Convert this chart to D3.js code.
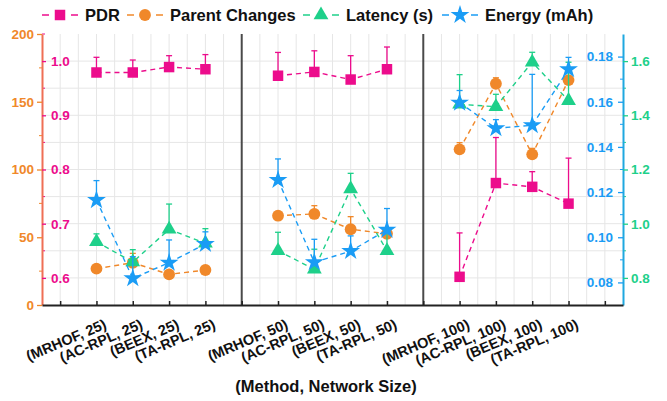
<!DOCTYPE html>
<html>
<head>
<meta charset="utf-8">
<script src="https://cdn.jsdelivr.net/npm/d3@7"></script>
<style>
  body { margin: 0; background: #fff; }
  svg { font-family: "Liberation Sans", Arial, sans-serif; font-weight: bold; }
</style>
</head>
<body>
<div id="chart"></div>
<script>
// data
const categories = ['(MRHOF, 25)', '(AC-RPL, 25)', '(BEEX, 25)', '(TA-RPL, 25)',
                    '(MRHOF, 50)', '(AC-RPL, 50)', '(BEEX, 50)', '(TA-RPL, 50)',
                    '(MRHOF, 100)', '(AC-RPL, 100)', '(BEEX, 100)', '(TA-RPL, 100)'];
const groupSize = 4;

const pdr       = [0.979, 0.979, 0.989, 0.985, 0.973, 0.980, 0.966, 0.985, 0.602, 0.775, 0.768, 0.737];
const pdrErr    = [0.028, 0.023, 0.021, 0.027, 0.043, 0.039, 0.044, 0.041, 0.081, 0.084, 0.028, 0.084];
const parent    = [26.8, 31.2, 22.6, 25.8, 65.9, 67.2, 55.9, 52.6, 114.9, 163.3, 111.2, 166.0];
const parentErr = [1, 6.9, 1.5, 1, 1, 6.1, 9.3, 1, 4.9, 4.4, 4.4, 2];
const latency   = [0.098, 0.089, 0.1035, 0.0973, 0.094, 0.0858, 0.1214, 0.094, 0.1589, 0.1578, 0.1775, 0.1605];
const latencyErr= [0.0035, 0.0055, 0.0112, 0.0065, 0.0082, 0.0089, 0.0069, 0.008, 0.0131, 0.0055, 0.0044, 0.017];
const energy    = [1.087, 0.7985, 0.856, 0.925, 1.161, 0.8575, 0.899, 0.977, 1.4465, 1.352, 1.363, 1.5697];
const energyErr = [0.072, 0.08, 0.084, 0.045, 0.078, 0.085, 0.056, 0.079, 0.045, 0.032, 0.188, 0.044];

const parentTicks  = [0, 50, 100, 150, 200];
const pdrTicks     = [0.6, 0.7, 0.8, 0.9, 1.0];
const latencyTicks = [0.08, 0.10, 0.12, 0.14, 0.16, 0.18];
const energyTicks  = [0.8, 1.0, 1.2, 1.4, 1.6];

const W = 667, H = 401;
const plotLeft = 42, plotRight = 623, plotTop = 34, plotBottom = 305;

const svg = d3.select('#chart').append('svg')
  .attr('width', W).attr('height', H);

// slot index for each category: groups are separated by one empty slot
const pos = i => 1.5 + Math.floor(i / groupSize) * (groupSize + 1) + (i % groupSize);

const x = d3.scaleLinear().domain([0, 16]).range([plotLeft, plotRight]);
const yParent = d3.scaleLinear().domain([0, 200]).range([plotBottom, plotTop]);
const yPdr = d3.scaleLinear().domain([0.55, 1.05]).range([plotBottom, plotTop]);
const yLat = d3.scaleLinear().domain([0.07, 0.19]).range([plotBottom, plotTop]);
const yEn = d3.scaleLinear().domain([0.7, 1.7]).range([plotBottom, plotTop]);

// grid
const grid = svg.append('g').attr('stroke', '#e6e6e6').attr('stroke-width', 1);
d3.range(0.5, 16, 0.5).filter(v => v !== 5.5 && v !== 10.5).forEach(v => {
  grid.append('line').attr('x1', x(v)).attr('x2', x(v)).attr('y1', plotTop).attr('y2', plotBottom);
});
d3.range(0.6, 1.001, 0.05).forEach(v => {
  grid.append('line').attr('x1', plotLeft).attr('x2', plotRight).attr('y1', yPdr(v)).attr('y2', yPdr(v));
});

// group separators
[5.5, 10.5].forEach(v => {
  svg.append('line').attr('x1', x(v)).attr('x2', x(v)).attr('y1', plotTop).attr('y2', plotBottom)
    .attr('stroke', '#4a4a4a').attr('stroke-width', 2);
});

const series = [
  { name: 'PDR', vals: pdr, err: pdrErr, y: yPdr, color: '#ec0c8c', sym: d3.symbolSquare, size: 110 },
  { name: 'Parent Changes', vals: parent, err: parentErr, y: yParent, color: '#f0882a', sym: d3.symbolCircle, size: 110 },
  { name: 'Latency (s)', vals: latency, err: latencyErr, y: yLat, color: '#1ed08a', sym: d3.symbolTriangle, size: 95 },
  { name: 'Energy (mAh)', vals: energy, err: energyErr, y: yEn, color: '#1a9cf5', sym: d3.symbolStar, size: 110 }
];

series.forEach(s => {
  const g = svg.append('g');
  // dashed lines within each group
  for (let k = 0; k < categories.length; k += groupSize) {
    const idx = d3.range(k, k + groupSize);
    g.append('path')
      .attr('d', d3.line().x(i => x(pos(i))).y(i => s.y(s.vals[i]))(idx))
      .attr('fill', 'none').attr('stroke', s.color)
      .attr('stroke-width', 1.4).attr('stroke-dasharray', '5,4');
  }
  // upper error bars
  s.vals.forEach((v, i) => {
    const cx = x(pos(i));
    g.append('line').attr('x1', cx).attr('x2', cx)
      .attr('y1', s.y(v)).attr('y2', s.y(v + s.err[i]))
      .attr('stroke', s.color).attr('stroke-width', 1.3);
    g.append('line').attr('x1', cx - 3).attr('x2', cx + 3)
      .attr('y1', s.y(v + s.err[i])).attr('y2', s.y(v + s.err[i]))
      .attr('stroke', s.color).attr('stroke-width', 1.3);
  });
  g.selectAll('path.mark').data(s.vals).enter().append('path')
    .attr('class', 'mark')
    .attr('d', d3.symbol().type(s.sym).size(s.size))
    .attr('transform', (v, i) => `translate(${x(pos(i))},${s.y(v)})`)
    .attr('fill', s.color);
});

// axes
function styleAxis(g, lineColor, textColor, tickColor) {
  g.select('.domain').attr('stroke', lineColor).attr('stroke-width', 2);
  g.selectAll('.tick line').attr('stroke', tickColor).attr('stroke-width', 1.3);
  g.selectAll('.tick text').attr('fill', textColor)
    .style('font-size', '13.5px').style('font-weight', 'bold')
    .style('font-family', '"Liberation Sans", Arial, sans-serif');
}

// minor ticks
function minor(scale, vals, xPos, dir, color) {
  vals.forEach(v => {
    svg.append('line').attr('x1', xPos).attr('x2', xPos + dir * 3)
      .attr('y1', scale(v)).attr('y2', scale(v))
      .attr('stroke', color).attr('stroke-width', 1);
  });
}
minor(yParent, [25, 75, 125, 175], plotLeft, -1, '#f0882a');
minor(yPdr, [0.65, 0.75, 0.85, 0.95, 1.05], plotLeft, 1, '#ec0c8c');
minor(yLat, [0.09, 0.11, 0.13, 0.15, 0.17], plotRight, -1, '#1a9cf5');
minor(yEn, [0.9, 1.1, 1.3, 1.5], plotRight, 1, '#1ed08a');

const axParent = svg.append('g').attr('transform', `translate(${plotLeft},0)`)
  .call(d3.axisLeft(yParent).tickValues(parentTicks).tickSize(5).tickPadding(3).tickSizeOuter(0));
styleAxis(axParent, '#ef6f55', '#f0882a', '#f0882a');

const axPdr = svg.append('g').attr('transform', `translate(${plotLeft},0)`)
  .call(d3.axisRight(yPdr).tickValues(pdrTicks).tickFormat(d3.format('.1f')).tickSize(4).tickPadding(5).tickSizeOuter(0));
axPdr.select('.domain').remove();
styleAxis(axPdr, 'none', '#ec0c8c', '#ec0c8c');

const axLat = svg.append('g').attr('transform', `translate(${plotRight},0)`)
  .call(d3.axisLeft(yLat).tickValues(latencyTicks).tickFormat(d3.format('.2f')).tickSize(5).tickPadding(5).tickSizeOuter(0));
styleAxis(axLat, '#1fa8e0', '#1a9cf5', '#1a9cf5');

const axEn = svg.append('g').attr('transform', `translate(${plotRight},0)`)
  .call(d3.axisRight(yEn).tickValues(energyTicks).tickFormat(d3.format('.1f')).tickSize(5).tickPadding(3).tickSizeOuter(0));
axEn.select('.domain').remove();
styleAxis(axEn, 'none', '#1ed08a', '#1ed08a');

const axX = svg.append('g').attr('transform', `translate(0,${plotBottom})`)
  .call(d3.axisBottom(x).tickValues(d3.range(0.5, 16, 1)).tickSize(-4).tickFormat('').tickSizeOuter(0));
axX.select('.domain').attr('stroke', '#222').attr('stroke-width', 2);
axX.selectAll('.tick line').attr('stroke', '#222').attr('stroke-width', 1.5);

// rotated category labels
svg.append('g').selectAll('text').data(categories).enter().append('text')
  .attr('transform', (d, i) => `translate(${x(pos(i)) + 11},${plotBottom + 23}) rotate(-23)`)
  .attr('text-anchor', 'end')
  .style('font-size', '14.5px')
  .attr('fill', '#111')
  .text(d => d);

svg.append('text')
  .attr('x', 326).attr('y', 392)
  .attr('text-anchor', 'middle')
  .style('font-size', '16.5px')
  .attr('fill', '#111')
  .text('(Method, Network Size)');

// legend
const legendX = [42, 127, 303, 442];
const legend = svg.append('g');
series.forEach((s, k) => {
  const lx = legendX[k], ly = 15;
  const g = legend.append('g').attr('transform', `translate(${lx},${ly})`);
  g.append('line').attr('x1', 0).attr('x2', 7).attr('y1', 0).attr('y2', 0)
    .attr('stroke', s.color).attr('stroke-width', 1.5);
  g.append('line').attr('x1', 29).attr('x2', 36).attr('y1', 0).attr('y2', 0)
    .attr('stroke', s.color).attr('stroke-width', 1.5);
  g.append('path').attr('d', d3.symbol().type(s.sym).size(s.size)).attr('transform', 'translate(18,0)')
    .attr('fill', s.color);
  g.append('text').attr('x', 43).attr('y', 6)
    .style('font-size', '16.5px').attr('fill', '#111')
    .text(s.name);
});
</script>
</body>
</html>
